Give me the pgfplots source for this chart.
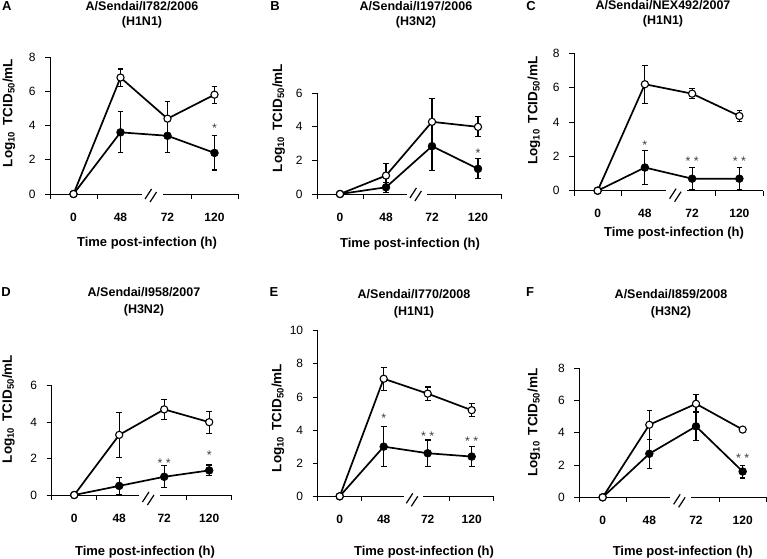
\documentclass[border=0pt]{standalone}
\usepackage{fontspec}
\setmainfont{Liberation Sans}
\usepackage{pgfplots}
\pgfplotsset{compat=1.18}

\pgfplotsset{
  panel/.style={
    scale only axis, anchor=south west, clip=false,
    xmin=0, xmax=4, ymin=0,
    axis y line=left, axis x line=bottom,
    x axis line style={draw=none},
    y axis line style={-, line width=0.8pt, black},
    xtick={0.5,1.5,2.5,3.5}, xticklabels={0,48,72,120},
    x tick style={draw=none},
    xticklabel style={font=\bfseries\fontsize{12}{14}\selectfont, anchor=center, yshift=-18pt},
    y tick style={line width=0.8pt, black},
    tick align=outside, major tick length=5pt,
    yticklabel style={font=\fontsize{12}{14}\selectfont, xshift=-6pt},
    /pgf/number format/assume math mode=true,
  },
  opn/.style={black, line width=1.7pt, mark=*, mark size=3.6pt,
    mark options={fill=white, line width=1.1pt},
    error bars/.cd, y dir=both, y explicit,
    error bar style={line width=1.1pt},
    error mark options={rotate=90, mark size=2.8pt, line width=1.1pt}},
  fil/.style={black, line width=1.7pt, mark=*, mark size=3.9pt,
    mark options={fill=black, line width=0.6pt},
    error bars/.cd, y dir=both, y explicit,
    error bar style={line width=1.1pt},
    error mark options={rotate=90, mark size=2.8pt, line width=1.1pt}},
}
\tikzset{
  ast/.style={font=\fontsize{12.5}{13}\selectfont, text=black!75, inner sep=0pt},
  ttl/.style={font=\bfseries\fontsize{12.5}{14}\selectfont, inner sep=0pt},
  lab/.style={font=\bfseries\fontsize{13}{14}\selectfont, inner sep=0pt},
}
\newcommand{\xaxisbroken}[1]{%
  \draw[line width=0.8pt] (axis cs:0,0) -- (axis cs:1.95,0);
  \draw[line width=0.8pt] (axis cs:2.4,0) -- (axis cs:4,0);
  \draw[line width=0.8pt] (axis cs:0,0) -- ++(0,-5pt);
  \draw[line width=0.8pt] (axis cs:1,0) -- ++(0,-5pt);
  \draw[line width=0.8pt] (axis cs:3,0) -- ++(0,-5pt);
  \draw[line width=0.8pt] (axis cs:4,0) -- ++(0,-5pt);
  \draw[line width=1.2pt] ([shift={(-6pt,#1-4pt)}]axis cs:2.15,0) -- ++(6.5pt,10pt);
  \draw[line width=1.2pt] ([shift={(-1pt,#1-7pt)}]axis cs:2.15,0) -- ++(6.5pt,10pt);
}
\newcommand{\ylab}{\fontsize{13.5}{14}\selectfont Log\textsubscript{10}\hspace{0.45em}TCID\textsubscript{50}/mL}

\begin{document}
\begin{tikzpicture}[x=1pt,y=1pt]
\path[use as bounding box] (0,0) rectangle (767,558);

% ---------- A ----------
\begin{axis}[panel, at={(50pt,364pt)}, width=188pt, height=137pt, ymax=8, ytick={0,2,4,6,8}]
\addplot[fil] table[x=x,y=y,y error=e] {
x y e
0.5 0 0
1.5 3.6 1.2
2.5 3.4 1.0
3.5 2.4 1.0
};
\addplot[opn] table[x=x,y=y,y error=e] {
x y e
0.5 0 0
1.5 6.8 0.5
2.5 4.4 1.0
3.5 5.8 0.5
};
\xaxisbroken{-1pt}
\node[ast] at (axis cs:3.5,3.85) {*};
\end{axis}

% ---------- B ----------
\begin{axis}[panel, at={(317pt,364pt)}, width=184pt, height=100.7pt, ymax=6, ytick={0,2,4,6}]
\addplot[fil] table[x=x,y=y,y error=e] {
x y e
0.5 0 0
1.5 0.4 0.3
2.5 2.85 1.45
3.5 1.5 0.6
};
\addplot[opn] table[x=x,y=y,y error=e] {
x y e
0.5 0 0
1.5 1.1 0.7
2.5 4.3 1.4
3.5 4.0 0.6
};
\xaxisbroken{0pt}
\node[ast] at (axis cs:3.5,2.45) {*};
\end{axis}

% ---------- C ----------
\begin{axis}[panel, at={(574pt,367.3pt)}, width=189pt, height=137.4pt, ymax=8, ytick={0,2,4,6,8}]
\addplot[fil] table[x=x,y=y,y error=e] {
x y e
0.5 0 0
1.5 1.35 1.0
2.5 0.7 0.65
3.5 0.7 0.65
};
\addplot[opn] table[x=x,y=y,y error=e] {
x y e
0.5 0 0
1.5 6.2 1.1
2.5 5.65 0.3
3.5 4.35 0.3
};
\xaxisbroken{-4pt}
\node[ast] at (axis cs:1.5,2.65) {*};
\node[ast] at (axis cs:2.5,1.7) {* *};
\node[ast] at (axis cs:3.5,1.7) {* *};
\end{axis}

% ---------- D ----------
\begin{axis}[panel, at={(51.7pt,63pt)}, width=180pt, height=109.3pt, ymax=6, ytick={0,2,4,6}]
\addplot[fil] table[x=x,y=y,y error=e] {
x y e
0.5 0 0
1.5 0.5 0.45
2.5 1.0 0.6
3.5 1.35 0.3
};
\addplot[opn] table[x=x,y=y,y error=e] {
x y e
0.5 0 0
1.5 3.3 1.25
2.5 4.7 0.55
3.5 4.0 0.6
};
\xaxisbroken{-3pt}
\node[ast] at (axis cs:2.5,1.77) {* *};
\node[ast] at (axis cs:3.5,2.2) {*};
\end{axis}

% ---------- E ----------
\begin{axis}[panel, at={(317.7pt,61.7pt)}, width=176pt, height=165.6pt, ymax=10, ytick={0,2,4,6,8,10}]
\addplot[fil] table[x=x,y=y,y error=e] {
x y e
0.5 0 0
1.5 3.0 1.2
2.5 2.6 0.8
3.5 2.4 0.6
};
\addplot[opn] table[x=x,y=y,y error=e] {
x y e
0.5 0 0
1.5 7.1 0.7
2.5 6.2 0.4
3.5 5.2 0.4
};
\xaxisbroken{-3pt}
\node[ast] at (axis cs:1.5,4.7) {*};
\node[ast] at (axis cs:2.5,3.65) {* *};
\node[ast] at (axis cs:3.5,3.35) {* *};
\end{axis}

% ---------- F ----------
\begin{axis}[panel, at={(579.3pt,60.7pt)}, width=186.7pt, height=129pt, ymax=8, ytick={0,2,4,6,8}]
\addplot[fil] table[x=x,y=y,y error=e] {
x y e
0.5 0 0
1.5 2.7 0.9
2.5 4.4 0.9
3.5 1.6 0.4
};
\addplot[opn] table[x=x,y=y,y error=e] {
x y e
0.5 0 0
1.5 4.5 0.9
2.5 5.8 0.55
3.5 4.2 0.05
};
\xaxisbroken{-3pt}
\node[ast] at (axis cs:3.5,2.45) {* *};
\end{axis}

% ---------- texts ----------
\node[lab] at (6.7,552) {A};
\node[lab] at (275,552) {B};
\node[lab] at (531,552) {C};
\node[lab] at (6,266) {D};
\node[lab] at (274,266) {E};
\node[lab] at (530,266) {F};

\node[ttl] at (142,552) {A/Sendai/I782/2006};
\node[ttl] at (142,536) {(H1N1)};
\node[ttl] at (416,552) {A/Sendai/I197/2006};
\node[ttl] at (416,536) {(H3N2)};
\node[ttl] at (663,553) {A/Sendai/NEX492/2007};
\node[ttl] at (663,537) {(H1N1)};
\node[ttl] at (144,266) {A/Sendai/I958/2007};
\node[ttl] at (144,247.5) {(H3N2)};
\node[ttl] at (414,264) {A/Sendai/I770/2008};
\node[ttl] at (414,246) {(H1N1)};
\node[ttl] at (671,264) {A/Sendai/I859/2008};
\node[ttl] at (671,246) {(H3N2)};

\node[lab, rotate=90] at (9,445) {\ylab};
\node[lab, rotate=90] at (278.6,440) {\ylab};
\node[lab, rotate=90] at (534,447.3) {\ylab};
\node[lab, rotate=90] at (8.3,149) {\ylab};
\node[lab, rotate=90] at (278,140) {\ylab};
\node[lab, rotate=90] at (534,135.3) {\ylab};

\node[lab] at (147,315.3) {Time post-infection (h)};
\node[lab] at (410,314) {Time post-infection (h)};
\node[lab] at (674,324.7) {Time post-infection (h)};
\node[lab] at (145,6.3) {Time post-infection (h)};
\node[lab] at (424,5.7) {Time post-infection (h)};
\node[lab] at (682.7,5.7) {Time post-infection (h)};
\end{tikzpicture}
\end{document}
